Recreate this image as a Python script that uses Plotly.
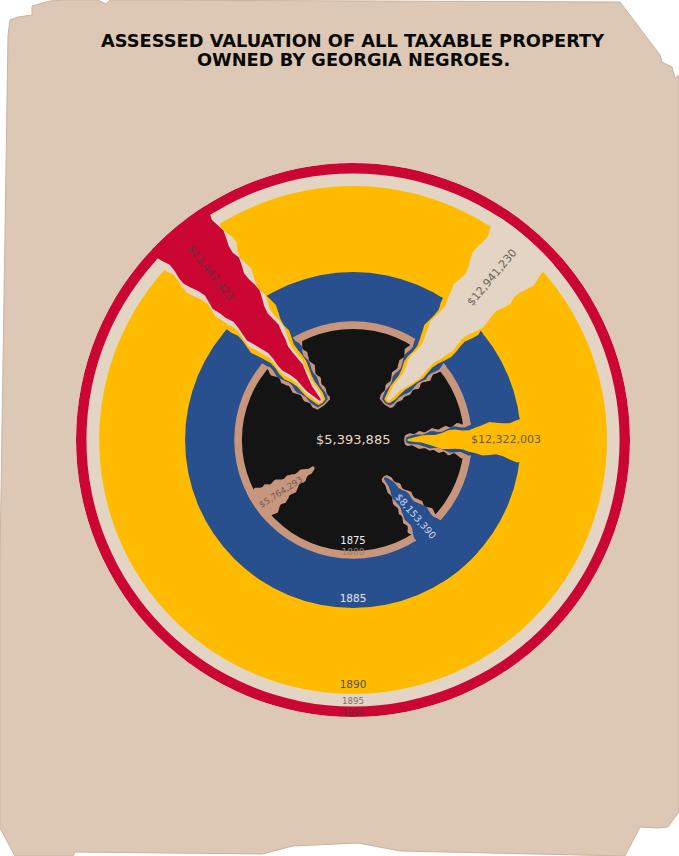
import math
import plotly.graph_objects as go

# ---------------- data ----------------
years = ["1875", "1880", "1885", "1890", "1895", "1899"]
values = [5393885, 5764293, 8153390, 12322003, 12941230, 13447423]
value_labels = ["$5,393,885", "$5,764,293", "$8,153,390",
                "$12,322,003", "$12,941,230", "$13,447,423"]

# ---------------- style ----------------
W, H = 679, 856
CX, CY, R_PX = 353, 440, 277          # centre and outer radius in pixels
RMAX = max(values)
PX = RMAX / R_PX                      # value units per pixel

ring_colors = ["#141414", "#c8967c", "#28508f", "#ffbb00", "#e4d4c3", "#cc0633"]
# spike style per year: (direction deg, tip radius px, tip width px, widening per px)
spike_style = [None,
               (215, 48, 3, 0.45),
               (310, 50, 3, 0.38),
               (0, 55, 2, 0.33),
               (49, 53, 3, 0.33),
               (129.5, 52, 2, 0.30)]
BORDER_BASE = 1.8        # px added to half width for each border layer
BORDER_GROW = 0.015      # extra per px of distance
JAG = [0.0, 0.6, 1.1, 0.4, -0.3, 0.2, 1.3, 0.9, -0.2, -0.6, 0.1, 0.8, 1.5, 0.7, 0.0,
       -0.4, 0.3, 0.5, 1.0, 0.2, -0.5, -0.2, 0.6, 1.2, 0.8, 0.1, -0.3, 0.4, 0.9, 0.0]

# value label placement (radius px, angle deg, rotation, size, colour)
vlab_pos = [(0, 0, 0, 13, "#ead8c0"),
            (89, 215.8, -33, 8.7, "#6e5a4c"),
            (99, -50.3, 49, 9.8, "#cdd5e6"),
            (153, 0, 0, 11, "#665a44"),
            (214, 49.5, -50, 11, "#6a6460"),
            (220, 130.4, 52, 10.6, "#5e3040")]
# year label offsets (px inside each ring), sizes, colours
ylab_off = [10, 5.5, 9, 8, 4.5, 3]
ylab_size = [10, 9, 10.5, 10.5, 8.6, 8.4]
ylab_color = ["#f2f2f2", "#a07f6c", "#e8e8f0", "#5a5040", "#7a7068", "#6a2a38"]

fig = go.Figure()

# full discs, largest first
for i in range(len(values) - 1, -1, -1):
    fig.add_trace(go.Barpolar(r=[values[i]], theta=[0], width=[360],
                              marker=dict(color=ring_colors[i], line=dict(width=0)),
                              hoverinfo="skip", showlegend=False))


def spike_polygon(theta_deg, tip_px, hw_fn, end_px, shift):
    """Torn spike along direction theta from tip_px to the ring edge end_px (pixels)."""
    a = math.radians(theta_deg)
    ux, uy = math.cos(a), math.sin(a)
    vx, vy = -uy, ux
    n = len(JAG)
    hw_end = hw_fn(end_px - tip_px)
    r_end = math.sqrt(max(end_px ** 2 - hw_end ** 2, 1.0))
    left, right = [], []
    for k in range(n):
        t = k / (n - 1)
        rc = tip_px + t * (r_end - tip_px)
        d = rc - tip_px
        amp = min(1 + d / 60, 3.2)
        hwl = hw_fn(d) + JAG[k] * amp
        hwr = hw_fn(d) + JAG[(k + shift) % n] * amp
        if k == n - 1:
            hwl = hwr = hw_fn(d)
        if k == 0:
            hwl = hwr = hw_fn(0)
        left.append((rc * ux + hwl * vx, rc * uy + hwl * vy))
        right.append((rc * ux - hwr * vx, rc * uy - hwr * vy))
    a_l = math.atan2(left[-1][1], left[-1][0])
    a_r = math.atan2(right[-1][1], right[-1][0])
    da = (a_l - a_r + math.pi) % (2 * math.pi) - math.pi
    arc = [(end_px * math.cos(a_l - da * s / 8), end_px * math.sin(a_l - da * s / 8)) for s in range(9)]
    pts = [((tip_px - 1) * ux, (tip_px - 1) * uy)] + left + arc + right[::-1]
    pts.append(pts[0])
    rs = [math.hypot(x, y) * PX for x, y in pts]
    ths = [math.degrees(math.atan2(y, x)) for x, y in pts]
    return rs, ths


# spikes with nested borders
for j in range(1, len(values)):
    th, tip0, w0, k = spike_style[j]
    for i in range(1, j + 1):
        m = j - i
        def hw_fn(d, w0=w0, k=k, m=m):
            return w0 / 2 + k / 2 * d + m * (BORDER_BASE + BORDER_GROW * d)
        rs, ths = spike_polygon(th, tip0 - 1.5 * m, hw_fn, values[i] / PX, 7 + 5 * m)
        fig.add_trace(go.Scatterpolar(r=rs, theta=ths, mode="lines", fill="toself",
                                      fillcolor=ring_colors[i],
                                      line=dict(width=0, color=ring_colors[i]),
                                      hoverinfo="skip", showlegend=False))

# year labels along the bottom
fig.add_trace(go.Scatterpolar(
    r=[v - o * PX for v, o in zip(values, ylab_off)],
    theta=[270] * len(values), mode="text", text=years,
    textfont=dict(family="DejaVu Sans", size=ylab_size, color=ylab_color),
    textposition="middle center", hoverinfo="skip", showlegend=False))


def to_paper(rpx, deg):
    a = math.radians(deg)
    x = CX + rpx * math.cos(a)
    y = CY - rpx * math.sin(a)
    return x / W, 1 - y / H


annotations = []
for lab, (rp, ang, rot, sz, col) in zip(value_labels, vlab_pos):
    x, y = to_paper(rp, ang)
    annotations.append(dict(x=x, y=y, xref="paper", yref="paper", text=lab,
                            showarrow=False, textangle=rot, xanchor="center",
                            yanchor="middle",
                            font=dict(family="DejaVu Sans", size=sz, color=col)))

title_lines = ["ASSESSED VALUATION OF ALL TAXABLE PROPERTY", "OWNED BY GEORGIA NEGROES."]
for k, t in enumerate(title_lines):
    annotations.append(dict(x=353 / W, y=1 - (40 + 20 * k) / H, xref="paper", yref="paper",
                            text="<b>" + t + "</b>", showarrow=False,
                            xanchor="center", yanchor="middle",
                            font=dict(family="DejaVu Sans", size=17.8, color="#0a0a0a")))

# torn paper background outline (pixels)
paper_pts = [(8, 36), (10, 20), (18, 17), (32, 15), (32, 6), (50, 1), (66, 0), (98, 0),
             (106, 4), (110, 0), (620, 2), (660, 55), (662, 62), (672, 67), (675, 78),
             (679, 75), (679, 812), (668, 827), (658, 828), (640, 827), (625, 856),
             (400, 851), (358, 843), (293, 846), (262, 854), (75, 852), (73, 856),
             (15, 856), (0, 828), (0, 560)]
path = "M " + " L ".join(f"{x / W:.5f},{1 - y / H:.5f}" for x, y in paper_pts) + " Z"

fig.update_layout(
    width=W, height=H, margin=dict(l=0, r=0, t=0, b=0),
    paper_bgcolor="#ffffff", plot_bgcolor="rgba(0,0,0,0)",
    shapes=[dict(type="path", path=path, xref="paper", yref="paper",
                 fillcolor="#dcc8b4", line=dict(color="#c9b39e", width=1), layer="below")],
    annotations=annotations,
    polar=dict(
        domain=dict(x=[(CX - R_PX) / W, (CX + R_PX) / W],
                    y=[1 - (CY + R_PX) / H, 1 - (CY - R_PX) / H]),
        bgcolor="rgba(0,0,0,0)",
        radialaxis=dict(range=[0, RMAX], visible=False),
        angularaxis=dict(visible=False, rotation=0, direction="counterclockwise"),
        barmode="overlay", bargap=0,
    ),
    showlegend=False,
)

fig.write_html("out.html")
